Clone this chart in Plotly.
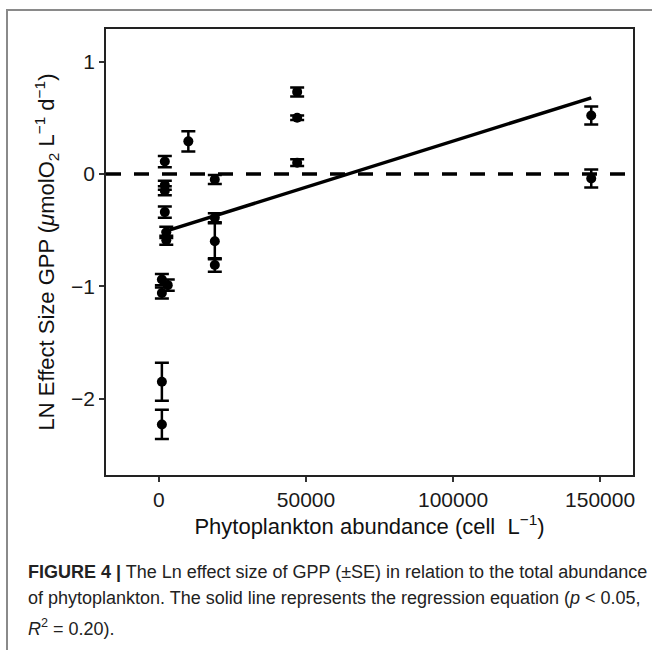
import plotly.graph_objects as go

# ---- data ----
abundance = [1000, 1000, 1000, 1000, 3000, 2000, 2000, 2000, 2000, 2500, 2500,
             10000, 19000, 19000, 19000, 19000, 47000, 47000, 47000, 147000, 147000]
ln_effect = [-2.23, -1.85, -0.94, -1.06, -0.99, 0.11, -0.10, -0.15, -0.34, -0.52, -0.59,
             0.29, -0.05, -0.39, -0.60, -0.81, 0.73, 0.50, 0.10, 0.52, -0.04]
se = [0.13, 0.17, 0.05, 0.05, 0.05, 0.05, 0.04, 0.04, 0.05, 0.05, 0.04,
      0.09, 0.04, 0.04, 0.16, 0.06, 0.04, 0.02, 0.03, 0.08, 0.08]

reg_intercept = -0.528
reg_slope = 8.2e-6

x_ticks = [0, 50000, 100000, 150000]
x_tick_labels = ["0", "50000", "100000", "150000"]
y_ticks = [-2, -1, 0, 1]
y_tick_labels = ["\u22122", "\u22121", "0", "1"]

W, H = 652, 650
L, R, T, B = 106, 19, 29, 175
pw, ph = W - L - R, H - T - B

def px_x(px):
    return (px - L) / pw

def px_y(py):
    return (H - B - py) / ph

fig = go.Figure()

fig.add_trace(go.Scatter(
    x=abundance, y=ln_effect, mode="markers",
    marker=dict(color="black", size=10),
    error_y=dict(type="data", array=se, visible=True, color="black",
                 thickness=2.5, width=7),
    showlegend=False, cliponaxis=False,
))

xr = [min(abundance), max(abundance)]
fig.add_trace(go.Scatter(
    x=xr, y=[reg_intercept + reg_slope * v for v in xr], mode="lines",
    line=dict(color="black", width=3.5), showlegend=False,
))

shapes = [
    dict(type="line", xref="paper", yref="y", x0=0, x1=1, y0=0, y1=0,
         line=dict(color="black", width=3.5, dash="15px,13px"), layer="below"),
    # outer grey frame of the figure panel
    dict(type="rect", xref="paper", yref="paper",
         x0=px_x(7), x1=px_x(700), y0=px_y(10), y1=px_y(720),
         line=dict(color="#8a8a8a", width=2), fillcolor="rgba(0,0,0,0)"),
]

cap_font = dict(family="Liberation Sans Narrow, Liberation Sans, Arial", size=18, color="#222")
captions = [
    "<b>FIGURE 4 |</b> The Ln effect size of GPP (\u00b1SE) in relation to the total abundance",
    "of phytoplankton. The solid line represents the regression equation (<i>p</i> &lt; 0.05,",
    "<i>R</i><sup>2</sup> = 0.20).",
]
cap_y = [572, 598, 627]
annotations = []
for txt, cy in zip(captions, cap_y):
    annotations.append(dict(
        text=txt, xref="paper", yref="paper", x=px_x(26), y=px_y(cy),
        xanchor="left", yanchor="middle", showarrow=False, font=cap_font, align="left",
    ))

tick_font = dict(family="Liberation Sans, Arial", size=21, color="#1a1a1a")
title_font = dict(family="Liberation Sans, Arial", size=22, color="#111")

fig.update_layout(
    width=W, height=H,
    margin=dict(l=L, r=R, t=T, b=B),
    paper_bgcolor="white", plot_bgcolor="white",
    shapes=shapes, annotations=annotations,
    xaxis=dict(
        range=[-18000, 161200], tickvals=x_ticks, ticktext=x_tick_labels,
        showgrid=False, zeroline=False, showline=True, mirror=True,
        linecolor="#222", linewidth=1.5, ticks="outside", ticklen=5,
        tickwidth=1.5, tickcolor="#333", tickfont=tick_font,
        title=dict(text="Phytoplankton abundance (cell  L<sup>\u22121</sup>)",
                   font=title_font, standoff=4),
    ),
    yaxis=dict(
        range=[-2.68, 1.29], tickvals=y_ticks, ticktext=y_tick_labels,
        showgrid=False, zeroline=False, showline=True, mirror=True,
        linecolor="#222", linewidth=1.5, ticks="outside", ticklen=5,
        tickwidth=1.5, tickcolor="#333", tickfont=tick_font,
        title=dict(text="LN Effect Size GPP (<i>\u03bc</i>molO<sub>2</sub> L<sup>\u22121</sup> d<sup>\u22121</sup>)",
                   font=title_font, standoff=10),
    ),
)

fig.write_html("out.html")
